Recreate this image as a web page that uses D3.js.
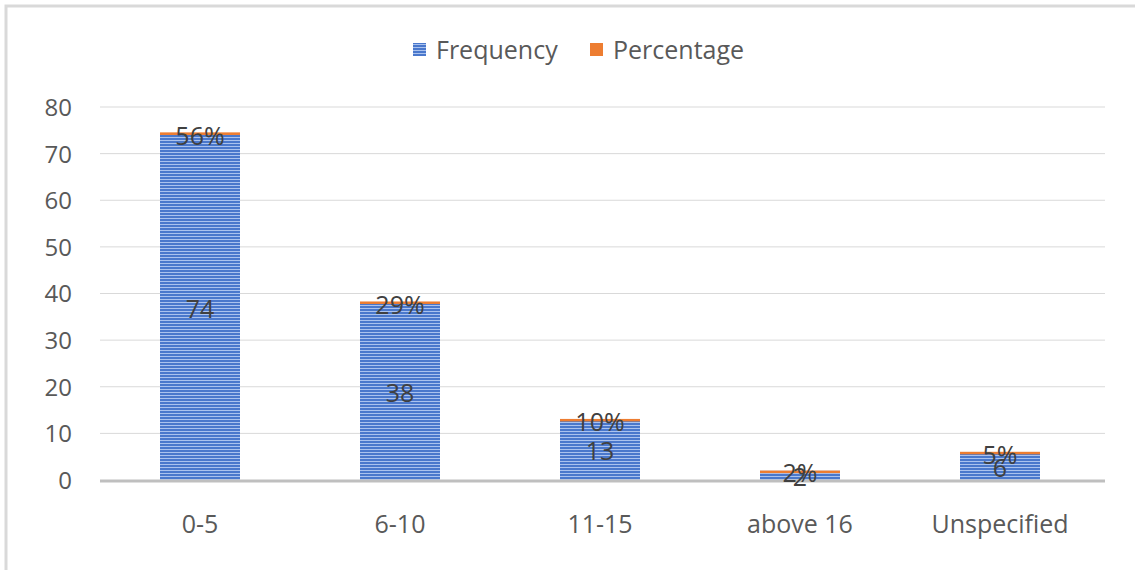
<!DOCTYPE html>
<html><head><meta charset="utf-8">
<script src="https://cdn.jsdelivr.net/npm/d3@7"></script>
<style>body{margin:0;background:#fff;} text{font-family:"Open Sans",Lato,sans-serif;}</style>
</head><body>
<svg id="c" width="1135" height="570"></svg>
<script>
const categories = ["0-5","6-10","11-15","above 16","Unspecified"];
const frequency = [74,38,13,2,6];
const percentage = [0.56,0.29,0.10,0.02,0.05];
const percentLabels = ["56%","29%","10%","2%","5%"];
const yTicks = [0,10,20,30,40,50,60,70,80];
const seriesNames = ["Frequency","Percentage"];

const FONT = "'Open Sans',Lato,sans-serif";
const svg = d3.select("#c");
const defs = svg.append("defs");
const pat = defs.append("pattern").attr("id","stripes").attr("patternUnits","userSpaceOnUse")
  .attr("width",8).attr("height",3);
pat.append("rect").attr("width",8).attr("height",3).attr("fill","#4a78cc");
pat.append("rect").attr("y",2).attr("width",8).attr("height",1).attr("fill","#aac2ee");

// border
svg.append("path").attr("d","M6,570 V6 H1135").attr("fill","none").attr("stroke","#d9d9d9").attr("stroke-width",3);

const x = d3.scaleBand().domain(categories).range([100,1100]).paddingInner(0.6).paddingOuter(0.3);
const y = d3.scaleLinear().domain([0,80]).range([480,107]);

// gridlines
svg.append("g").selectAll("line").data(yTicks.filter(d=>d>0)).join("line")
  .attr("x1",100).attr("x2",1105).attr("y1",d=>y(d)).attr("y2",d=>y(d))
  .attr("stroke","#d9d9d9").attr("stroke-width",1);

// y axis labels
const yAxis = d3.axisLeft(y).tickValues(yTicks).tickSize(0).tickPadding(0);
const gy = svg.append("g").attr("transform","translate(72,0)").call(yAxis);
gy.select(".domain").remove();
gy.selectAll("text").attr("font-size",24).attr("fill","#595959").attr("font-family",FONT).attr("dy","0.35em");

// stacked data
const rows = categories.map((c,i)=>({cat:c,Frequency:frequency[i],Percentage:percentage[i]}));
const stack = d3.stack().keys(seriesNames)(rows);
const fills = {Frequency:"url(#stripes)",Percentage:"#ed7d31"};

svg.append("g").selectAll("g").data(stack).join("g")
  .attr("fill",d=>fills[d.key])
  .selectAll("rect").data(d=>d).join("rect")
  .attr("x",d=>x(d.data.cat)).attr("width",x.bandwidth())
  .attr("y",d=>y(d[1])).attr("height",d=>Math.max(y(d[0])-y(d[1]), 2.5));

// x axis line
svg.append("line").attr("x1",100).attr("x2",1105).attr("y1",481).attr("y2",481).attr("stroke","#bfbfbf").attr("stroke-width",3);

// x axis labels
const xAxis = d3.axisBottom(x).tickSize(0).tickPadding(0);
const gx = svg.append("g").attr("transform","translate(0,524)").call(xAxis);
gx.select(".domain").remove();
gx.selectAll("text").attr("font-size",25).attr("fill","#595959").attr("font-family",FONT).attr("dy","0.35em");

// data labels
const lab = svg.append("g").attr("font-size",25).attr("fill","#404040").attr("text-anchor","middle").attr("font-family",FONT);
stack[0].forEach((d,i)=>{
  lab.append("text").attr("x",x(d.data.cat)+x.bandwidth()/2).attr("y",y((d[0]+d[1])/2)+2).attr("dy","0.35em").text(frequency[i]);
});
stack[1].forEach((d,i)=>{
  lab.append("text").attr("x",x(d.data.cat)+x.bandwidth()/2).attr("y",y((d[0]+d[1])/2)+3).attr("dy","0.35em").text(percentLabels[i]);
});

// legend
const lg = svg.append("g");
const legendItems = [{n:"Frequency",x:413,f:"url(#stripes)"},{n:"Percentage",x:590,f:"#ed7d31"}];
legendItems.forEach(it=>{
  lg.append("rect").attr("x",it.x).attr("y",43).attr("width",13).attr("height",13).attr("fill",it.f);
  lg.append("text").attr("x",it.x+23).attr("y",50).attr("dy","0.35em").attr("font-size",25).attr("fill","#595959").attr("font-family",FONT).text(it.n);
});
</script>
</body></html>
